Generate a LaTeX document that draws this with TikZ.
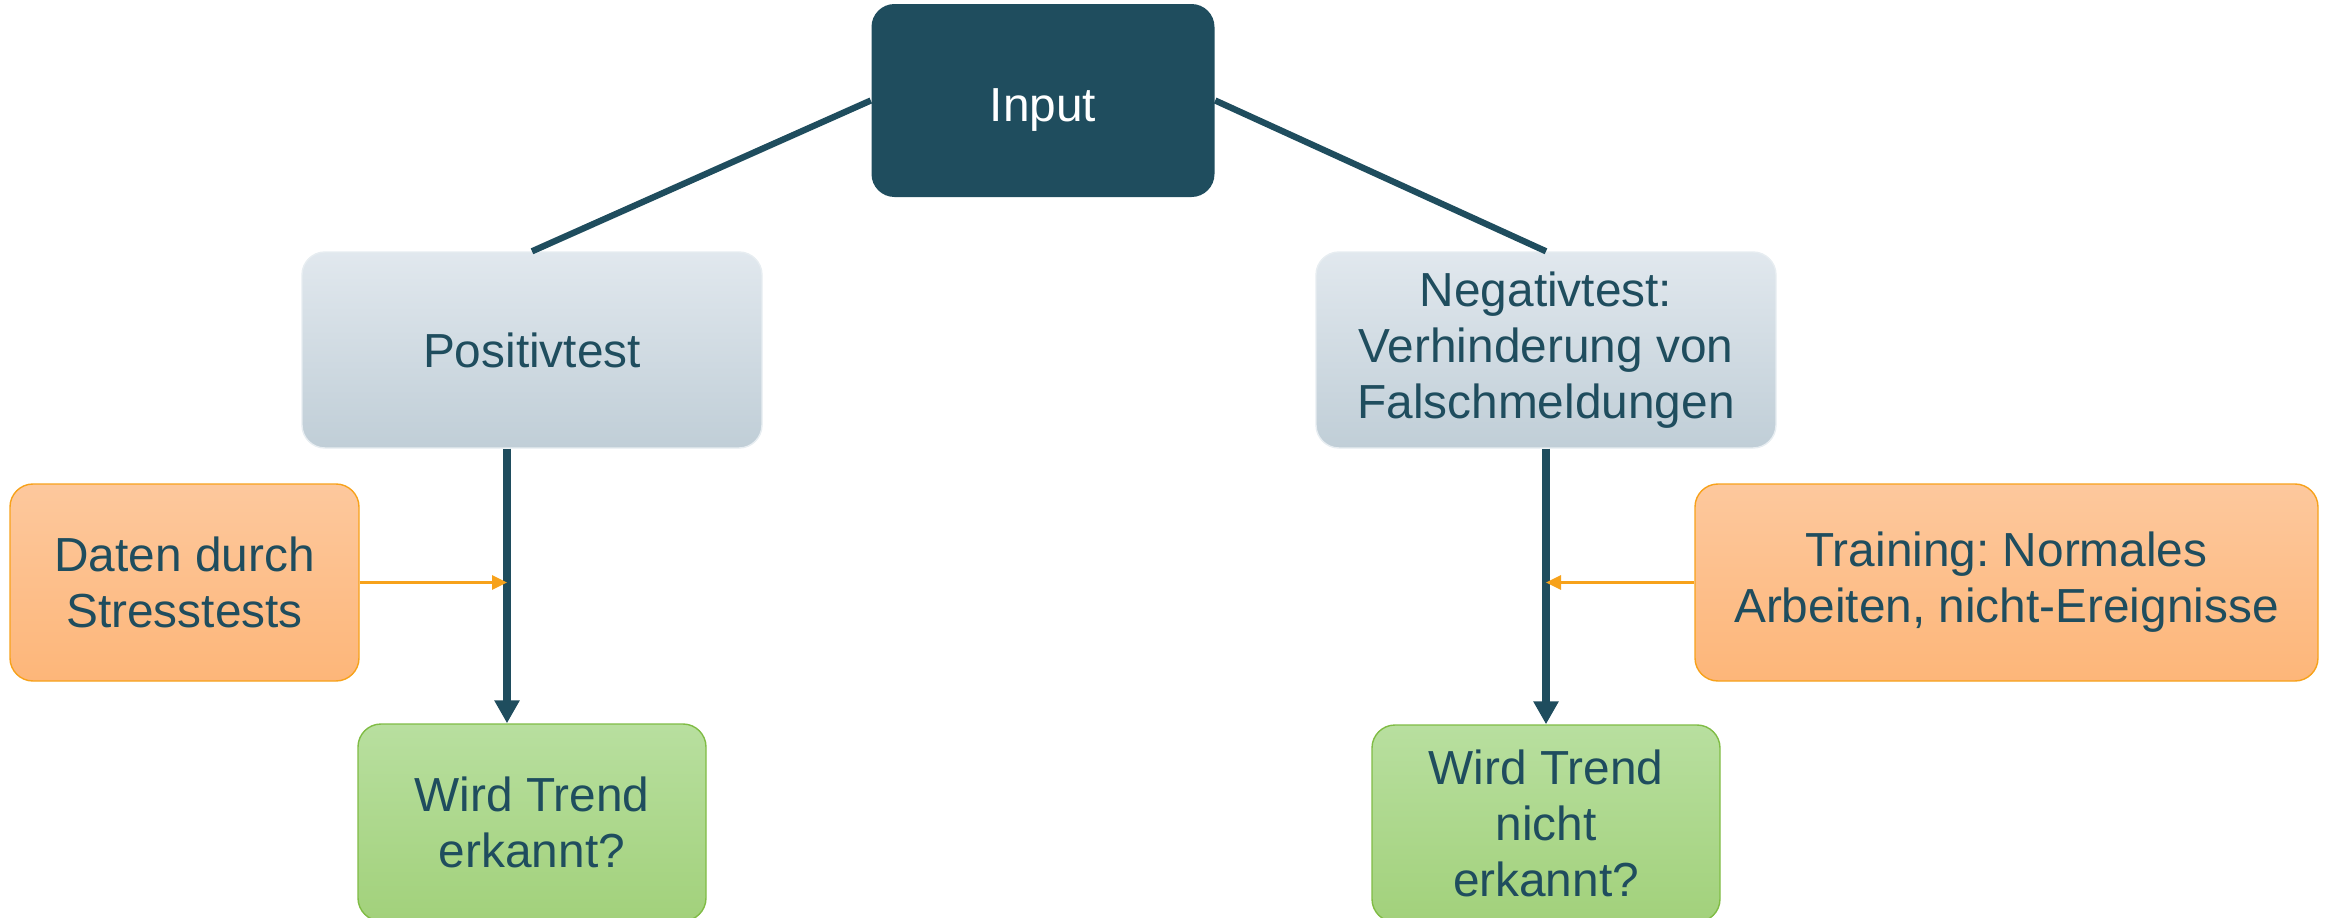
\documentclass[tikz,border=0pt]{standalone}
\usepackage{fontspec}
\setmainfont{Liberation Sans}
\usetikzlibrary{arrows.meta}
\definecolor{petrol}{HTML}{1F4D5E}
\definecolor{greytop}{HTML}{E1E8EE}
\definecolor{greybot}{HTML}{C0CED7}
\definecolor{orangetop}{HTML}{FDC89D}
\definecolor{orangebot}{HTML}{FDB679}
\definecolor{orangeline}{HTML}{F7A21B}
\definecolor{greentop}{HTML}{B8DF9F}
\definecolor{greenbot}{HTML}{A2D17B}
\definecolor{greenline}{HTML}{80BC45}
\frenchspacing
\begin{document}
\begin{tikzpicture}[font=\fontsize{13.6}{16}\selectfont, line join=round,
		box/.style={rounded corners=2.3mm, align=center, inner sep=0pt, text=petrol},
		head/.style={box, fill=petrol, text=white, text height=5.2mm, minimum width=34.3mm, minimum height=19.3mm},
		test/.style={box, draw=greytop!80!white, top color=greytop, bottom color=greybot, minimum width=46mm, minimum height=19.6mm},
		source/.style={box, draw=orangeline, top color=orangetop, bottom color=orangebot, minimum height=19.7mm},
		query/.style={box, draw=greenline, top color=greentop, bottom color=greenbot, minimum width=34.8mm, minimum height=19.7mm},
		link/.style={draw=petrol, line width=1.8pt},
		flow/.style={draw=petrol, line width=2.2pt, -{Triangle[length=2.3mm,width=2.4mm]}},
		feed/.style={draw=orangeline, line width=0.8pt, -{Triangle[length=1.5mm,width=1.4mm]}}]
				\useasboundingbox (0,0) rectangle (23.28,-9.18);
				\node[head] (input) at (10.43,-1.005) {Input};
				\node[test] (pos) at (5.32,-3.5) {Positivtest};
				\node[test] (neg) at (15.46,-3.5) {Negativtest:\\Verhinderung von\\Falschmeldungen};
				\node[source, minimum width=34.9mm] (daten) at (1.845,-5.825) {Daten durch\\Stresstests};
				\node[source, minimum width=62.3mm] (training) at (20.065,-5.825) {Training: Normales\\Arbeiten, nicht-Ereignisse};
				\node[query] (posq) at (5.32,-8.225) {Wird Trend\\erkannt?};
				\node[query] (negq) at (15.46,-8.235) {Wird Trend\\nicht\\erkannt?};
				\path
				([xshift=-2.5mm]pos.south) coordinate (ps)
				([xshift=-2.5mm]posq.north) coordinate (pq)
				;
				\draw[link] (input.west)--(pos.north);
				\draw[link] (input.east)--(neg.north);
				\draw[flow] (ps)--(pq);
				\draw[flow] (neg.south)--(neg.south |- negq.north);
				\draw[feed] (daten.east)--(daten.east -| ps);
				\draw[feed] (training.west)--(training.west -| neg.south);
		\end{tikzpicture}
\end{document}
